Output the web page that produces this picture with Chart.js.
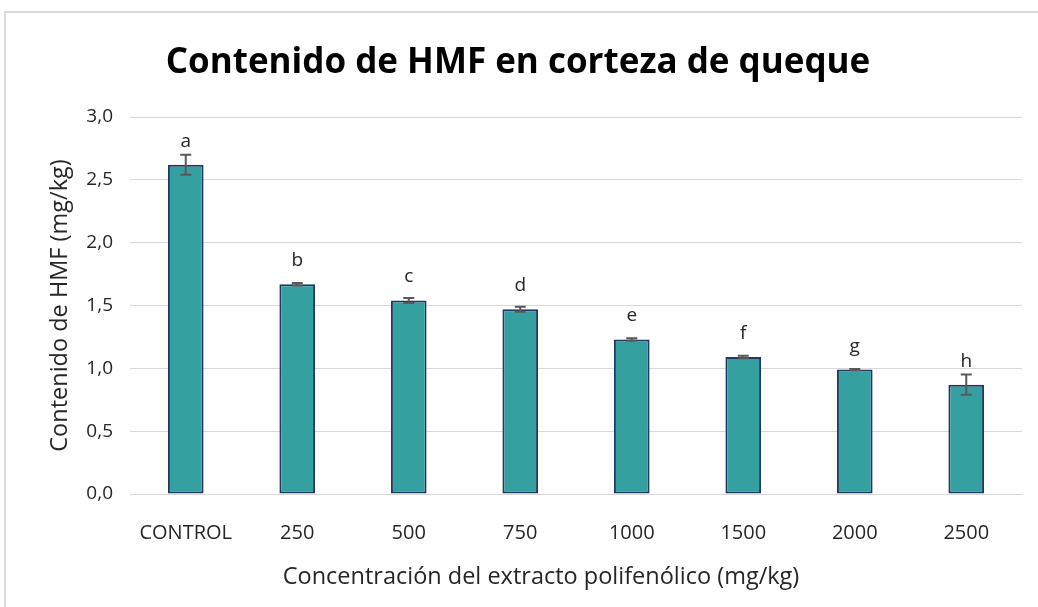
<!DOCTYPE html>
<html>
<head>
<meta charset="utf-8">
<script src="https://cdn.jsdelivr.net/npm/chart.js@4"></script>
<style>
  html, body { margin: 0; padding: 0; background: #fff; }
  #frame { position: absolute; left: 4px; top: 11px; width: 1040px; height: 600px;
           border-left: 2px solid #D9D9D9; border-top: 2px solid #D9D9D9; }
  #wrap { position: absolute; left: 0; top: 0; width: 1038px; height: 607px; }
</style>
</head>
<body>
<div id="frame"></div>
<div id="wrap"><canvas id="hmf-chart"></canvas></div>
<script>
"use strict";

var categories = ["CONTROL", "250", "500", "750", "1000", "1500", "2000", "2500"];
var hmfValues = [2.62, 1.67, 1.54, 1.47, 1.23, 1.09, 0.99, 0.87];
var hmfErrors = [0.08, 0.01, 0.02, 0.02, 0.01, 0.01, 0.005, 0.08];
var groupLetters = ["a", "b", "c", "d", "e", "f", "g", "h"];
var yTicks = [0, 0.5, 1, 1.5, 2, 2.5, 3];

var baseFont = "'Open Sans', 'Noto Sans', sans-serif";
var xTitle = "Concentración del extracto polifenólico (mg/kg)";

// error bars, letters on top of bars, and the x axis title
var errorBarPlugin = {
    id: 'errorBars',
    afterDatasetsDraw: function (chart) {
        var ctx = chart.ctx;
        var yScale = chart.scales.y;
        var meta = chart.getDatasetMeta(0);
        ctx.save();
        meta.data.forEach(function (bar, i) {
            var x = bar.x;
            var top = yScale.getPixelForValue(hmfValues[i] + hmfErrors[i]);
            var bottom = yScale.getPixelForValue(hmfValues[i] - hmfErrors[i]);
            ctx.strokeStyle = "#595959";
            ctx.lineWidth = 2;
            ctx.beginPath();
            ctx.moveTo(x, top);
            ctx.lineTo(x, bottom);
            ctx.moveTo(x - 5.5, top);
            ctx.lineTo(x + 5.5, top);
            ctx.moveTo(x - 5.5, bottom);
            ctx.lineTo(x + 5.5, bottom);
            ctx.stroke();

            ctx.fillStyle = "#262626";
            ctx.font = "19px " + baseFont;
            ctx.textAlign = "center";
            ctx.textBaseline = "alphabetic";
            ctx.fillText(groupLetters[i], x, bar.y - 18);
        });

        ctx.fillStyle = "#262626";
        ctx.font = "23.5px " + baseFont;
        ctx.textAlign = "center";
        ctx.textBaseline = "middle";
        ctx.fillText(xTitle, 541, 577);
        ctx.restore();
    }
};

var chart = new Chart(document.getElementById("hmf-chart"), {
    type: 'bar',
    data: {
        labels: categories,
        datasets: [{
            label: "HMF",
            data: hmfValues,
            backgroundColor: "#35A0A0",
            borderColor: "#1F3864",
            borderWidth: 2,
            borderSkipped: false,
            categoryPercentage: 1,
            barPercentage: 0.32
        }]
    },
    options: {
        responsive: true,
        maintainAspectRatio: false,
        animation: false,
        layout: { padding: { left: 14, right: 16, top: 0, bottom: 0 } },
        plugins: {
            legend: { display: false },
            tooltip: { enabled: false },
            title: {
                display: true,
                text: "Contenido de HMF en corteza de queque",
                color: "#000",
                font: { family: baseFont, size: 35, weight: 'bold', lineHeight: 1.2 },
                padding: { top: 42, bottom: 33 }
            }
        },
        scales: {
            x: {
                grid: { display: false },
                border: { display: true, color: "#D9D9D9", width: 1 },
                ticks: { color: "#262626", font: { family: baseFont, size: 20 }, padding: 19 },
                afterFit: function (scale) { scale.height = 113; }
            },
            y: {
                min: 0,
                max: 3,
                afterBuildTicks: function (scale) {
                    scale.ticks = yTicks.map(function (v) { return { value: v }; });
                },
                grid: { color: "#D9D9D9", lineWidth: 1, drawTicks: false },
                border: { display: false },
                ticks: {
                    color: "#262626",
                    font: { family: baseFont, size: 19 },
                    padding: 17,
                    callback: function (v) { return v.toFixed(1).replace('.', ','); }
                },
                title: {
                    display: true,
                    text: "Contenido de HMF (mg/kg)",
                    color: "#262626",
                    font: { family: baseFont, size: 23.5 },
                    padding: { top: 32, bottom: 0 }
                },
                afterFit: function (scale) { scale.width = 116; }
            }
        }
    },
    plugins: [errorBarPlugin]
});
</script>
</body>
</html>
